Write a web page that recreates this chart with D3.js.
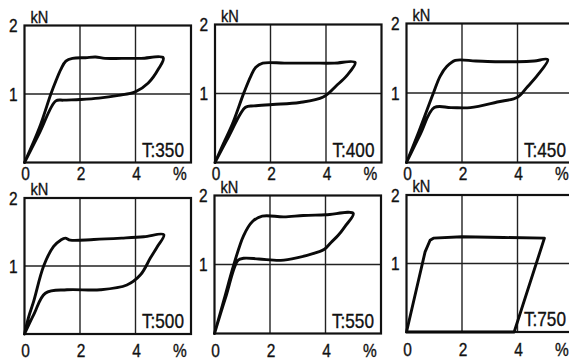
<!DOCTYPE html>
<html>
<head>
<meta charset="utf-8">
<script src="https://cdn.jsdelivr.net/npm/d3@7"></script>
<style>
  html, body { margin: 0; padding: 0; background: #fff; }
  svg { display: block; }
  text { font-family: "Liberation Sans", Arial, Helvetica, sans-serif; fill: #111; stroke: #111; stroke-width: 0.35px; }
</style>
</head>
<body>
<svg id="chart" width="569" height="360"></svg>
<script>
// ---------------- data ----------------
const panelTitles = ["T:350", "T:400", "T:450", "T:500", "T:550", "T:750"];
const xTickValues = [0, 2, 4];
const yTickValues = [1, 2];
const xUnit = "%";
const yUnit = "kN";

// each loop: loading branch up to the tip, then unloading branch back to origin
const t350X = [0, 0.54, 0.95, 1.13, 1.31, 1.49, 1.73, 2.2, 2.56, 2.9, 3.5, 4.2, 5.0, 4.82, 4.46, 3.99, 3.39, 2.68, 2.0, 1.4, 1.13, 0.55, 0];
const t350Y = [0, 0.51, 1.0, 1.19, 1.36, 1.48, 1.52, 1.53, 1.54, 1.52, 1.52, 1.52, 1.53, 1.36, 1.16, 1.03, 0.98, 0.94, 0.92, 0.91, 0.9, 0.44, 0];

const t400X = [0, 0.3, 0.63, 1.05, 1.3, 1.47, 1.72, 2.5, 3.5, 4.3, 5.05, 4.75, 4.39, 3.9, 3.05, 2.08, 1.4, 1.1, 0.5, 0];
const t400Y = [0, 0.27, 0.56, 1.02, 1.26, 1.38, 1.44, 1.44, 1.44, 1.44, 1.45, 1.26, 1.12, 0.95, 0.87, 0.84, 0.82, 0.8, 0.38, 0];

const t450X = [0, 0.45, 0.97, 1.21, 1.45, 1.76, 2.5, 3.3, 4.0, 4.6, 5.09, 4.73, 4.36, 4.0, 3.27, 2.3, 1.6, 1.0, 0.5, 0];
const t450Y = [0, 0.45, 1.0, 1.24, 1.38, 1.47, 1.46, 1.45, 1.45, 1.46, 1.48, 1.26, 1.09, 0.94, 0.87, 0.79, 0.79, 0.79, 0.41, 0];

const t500X = [0, 0.15, 0.33, 0.69, 1.05, 1.3, 1.47, 1.65, 2.5, 3.5, 4.3, 5.02, 4.78, 4.54, 4.18, 3.69, 2.73, 1.53, 0.75, 0.35, 0];
const t500Y = [0, 0.25, 0.48, 1.0, 1.29, 1.38, 1.41, 1.38, 1.39, 1.41, 1.43, 1.46, 1.28, 1.12, 0.87, 0.72, 0.65, 0.65, 0.6, 0.3, 0];

const t550X = [0, 0.35, 0.69, 1.05, 1.36, 1.72, 2.5, 3.2, 4.0, 5.0, 4.7, 4.45, 4.2, 3.96, 3.72, 3.0, 2.39, 1.6, 1.05, 0.85, 0.4, 0];
const t550Y = [0, 0.5, 0.99, 1.42, 1.62, 1.70, 1.69, 1.71, 1.72, 1.74, 1.55, 1.42, 1.32, 1.22, 1.18, 1.1, 1.06, 1.08, 1.09, 1.06, 0.52, 0];

const t750X = [0, 0.67, 0.85, 0.97, 2.0, 3.5, 4.97, 3.88, 0];
const t750Y = [0, 1.17, 1.34, 1.37, 1.39, 1.38, 1.37, 0, 0];

const seriesX = [t350X, t400X, t450X, t500X, t550X, t750X];
const seriesY = [t350Y, t400Y, t450Y, t500Y, t550Y, t750Y];

// ---------------- layout ----------------
const xDomain = [0, 6];
const yDomain = [0, 2];
const panelBoxes = [
  { left: 24.5, right: 191, top: 25.5, bottom: 162.5, labelDy: 17 },
  { left: 215,  right: 381.5, top: 24.5, bottom: 162.5, labelDy: 17 },
  { left: 406.5, right: 573, top: 23.5, bottom: 162.5, labelDy: 17 },
  { left: 24.5, right: 191, top: 198, bottom: 334, labelDy: 22.5 },
  { left: 214.5, right: 381, top: 195.5, bottom: 333.5, labelDy: 23 },
  { left: 406.5, right: 573, top: 195, bottom: 332, labelDy: 24 }
];
const smoothPanels = [true, true, true, true, true, false];

const svg = d3.select("#chart");
const SX = 0.86;

function addText(g, x, y, str, size, anchor) {
  return g.append("text")
    .attr("transform", `translate(${x},${y}) scale(${SX},1)`)
    .attr("text-anchor", anchor)
    .style("font-size", size + "px")
    .text(str);
}

panelTitles.forEach((title, i) => {
  const b = panelBoxes[i];
  const x = d3.scaleLinear().domain(xDomain).range([b.left, b.right]);
  const y = d3.scaleLinear().domain(yDomain).range([b.bottom, b.top]);
  const g = svg.append("g");

  // grid lines
  g.selectAll("line.vgrid").data(xTickValues.filter(v => v > 0)).enter().append("line")
    .attr("x1", d => x(d)).attr("x2", d => x(d))
    .attr("y1", y(yDomain[0])).attr("y2", y(yDomain[1]))
    .attr("stroke", "#222").attr("stroke-width", 1.4);
  g.selectAll("line.hgrid").data(yTickValues.filter(v => v < yDomain[1])).enter().append("line")
    .attr("x1", x(xDomain[0])).attr("x2", x(xDomain[1]))
    .attr("y1", d => y(d)).attr("y2", d => y(d))
    .attr("stroke", "#222").attr("stroke-width", 1.4);

  // frame
  g.append("rect")
    .attr("x", x(xDomain[0])).attr("y", y(yDomain[1]))
    .attr("width", x(xDomain[1]) - x(xDomain[0]))
    .attr("height", y(yDomain[0]) - y(yDomain[1]))
    .attr("fill", "none").attr("stroke", "#111").attr("stroke-width", 2.2);

  // loop curve
  const pts = seriesX[i].map((v, k) => [v, seriesY[i][k]]);
  const line = d3.line()
    .x(d => x(d[0])).y(d => y(d[1]))
    .curve(smoothPanels[i] ? d3.curveCatmullRom.alpha(0.5) : d3.curveLinear);
  g.append("path").attr("d", line(pts))
    .attr("fill", "none").attr("stroke", "#0a0a0a")
    .attr("stroke-width", 2.9).attr("stroke-linejoin", "round").attr("stroke-linecap", "round");

  // x tick labels
  xTickValues.forEach(v => addText(g, x(v) + 1, b.bottom + b.labelDy, String(v), 18, "middle"));
  addText(g, x(5.6), b.bottom + b.labelDy, xUnit, 18, "middle");

  // y tick labels
  yTickValues.forEach(v => addText(g, x(0) - 7, y(v) + 6.5, String(v), 18, "end"));
  addText(g, x(0) + 6, y(yDomain[1]) - 3, yUnit, 17, "start");

  // title
  addText(g, x(xDomain[1]) - 7, y(0) - 6, title, 20, "end");
});
</script>
</body>
</html>
